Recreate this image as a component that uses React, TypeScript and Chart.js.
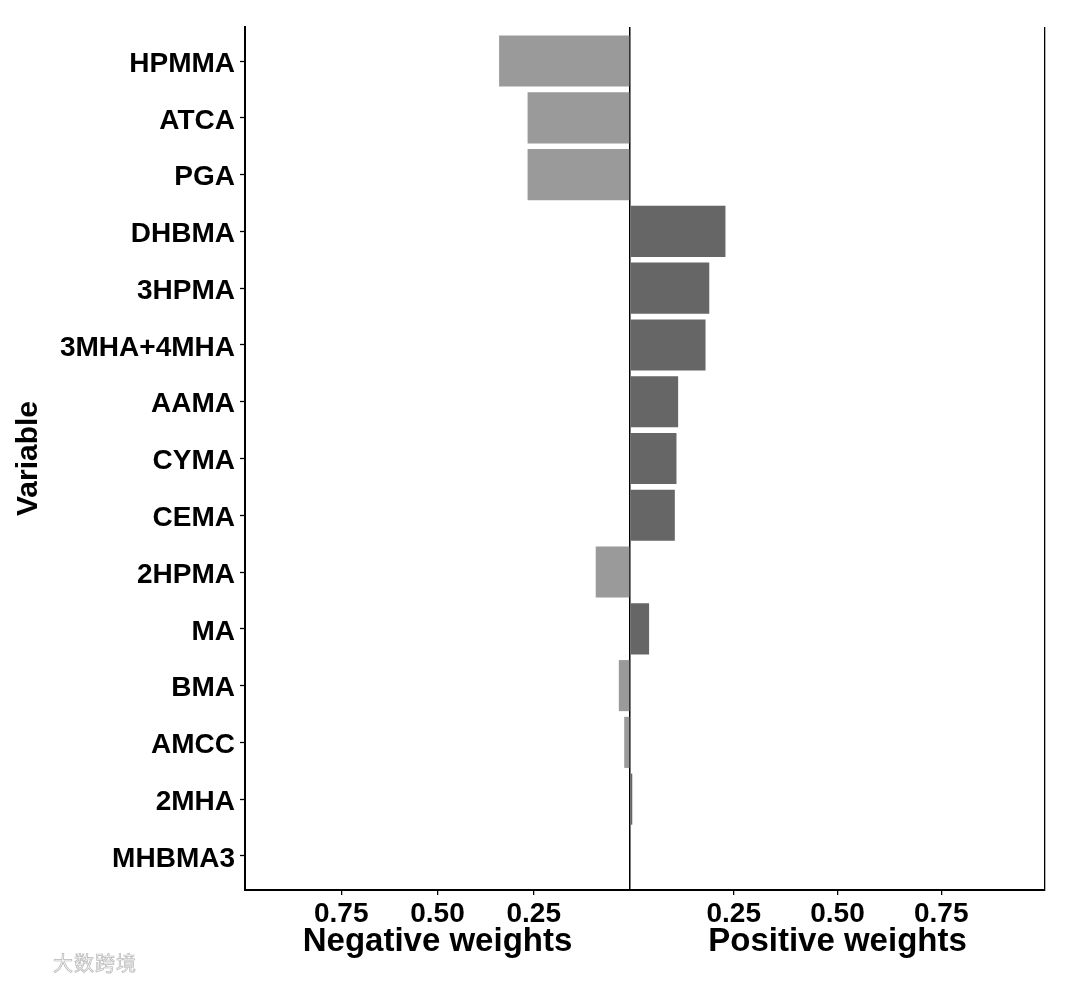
import React, { useEffect, useRef } from 'react';
import { Chart, registerables } from 'chart.js';

Chart.register(...registerables);

const categories = ['HPMMA', 'ATCA', 'PGA', 'DHBMA', '3HPMA', '3MHA+4MHA', 'AAMA', 'CYMA', 'CEMA', '2HPMA', 'MA', 'BMA', 'AMCC', '2MHA', 'MHBMA3'];
const negativeWeights = [0.340, 0.266, 0.266, null, null, null, null, null, null, 0.089, null, 0.029, 0.015, null, null];
const positiveWeights = [null, null, null, 0.230, 0.191, 0.182, 0.116, 0.112, 0.108, null, 0.046, null, null, 0.0055, 0.001];
const weightTickValues = [0, 0.25, 0.5, 0.75, 1];
const weightTickLabels = ['', '0.25', '0.50', '0.75', ''];
const yTitle = 'Variable';
const negTitle = 'Negative weights';
const posTitle = 'Positive weights';
const watermarkText = '大数跨境';

const NEG_COLOR = '#9a9a9a';
const POS_COLOR = '#666666';
const FONT = "'Liberation Sans', Arial, sans-serif";

export default function App() {
  const ref = useRef<HTMLCanvasElement>(null);

  useEffect(() => {
    document.body.style.margin = '0';
    const canvas = ref.current;
    if (!canvas) return;

    const tickIndex = (v: number) => weightTickValues.findIndex((t) => Math.abs(t - v) < 1e-6);
    const isInner = (v: number) => v > 0.001 && v < 0.999;

    const xScale = (reverse: boolean, title: string, weight: number, edgeLines: number[]) => ({
      type: 'linear',
      position: 'bottom',
      stack: 'weights',
      stackWeight: weight,
      reverse,
      min: 0,
      max: 1,
      afterBuildTicks: (scale: any) => {
        scale.ticks = weightTickValues.map((v) => ({ value: v }));
      },
      afterFit: (scale: any) => {
        scale.height = 95;
      },
      ticks: {
        autoSkip: false,
        maxRotation: 0,
        color: '#000',
        padding: 2,
        font: { family: FONT, size: 28, weight: 'bold' },
        callback: (v: number) => {
          const i = tickIndex(v);
          return i >= 0 ? weightTickLabels[i] : '';
        },
      },
      grid: {
        display: true,
        drawOnChartArea: true,
        drawTicks: true,
        tickLength: 5,
        lineWidth: 1.3,
        color: (ctx: any) => (ctx.tick && edgeLines.some((e) => Math.abs(e - ctx.tick.value) < 1e-6) ? '#000' : 'rgba(0,0,0,0)'),
        tickColor: (ctx: any) => (ctx.tick && isInner(ctx.tick.value) ? '#000' : 'rgba(0,0,0,0)'),
        tickWidth: 1.3,
      },
      border: { display: true, color: '#000', width: 2 },
      title: {
        display: true,
        text: title,
        color: '#000',
        font: { family: FONT, size: 33, weight: 'bold' },
        padding: { top: 0, bottom: 23 },
      },
    });

    const chart = new Chart(canvas, {
      type: 'bar',
      data: {
        datasets: [
          {
            label: negTitle,
            data: categories.map((c, i) => ({ x: negativeWeights[i], y: i })),
            xAxisID: 'xNeg',
            yAxisID: 'y',
            backgroundColor: NEG_COLOR,
            borderWidth: 0,
            grouped: false,
            barPercentage: 0.9,
            categoryPercentage: 1,
          } as any,
          {
            label: posTitle,
            data: categories.map((c, i) => ({ x: positiveWeights[i], y: i })),
            xAxisID: 'xPos',
            yAxisID: 'y',
            backgroundColor: POS_COLOR,
            borderWidth: 0,
            grouped: false,
            barPercentage: 0.9,
            categoryPercentage: 1,
          } as any,
        ],
      },
      options: {
        indexAxis: 'y',
        animation: false,
        responsive: false,
        maintainAspectRatio: false,
        layout: { padding: { top: 27, right: 35, left: 0, bottom: 0 } },
        plugins: { legend: { display: false }, tooltip: { enabled: false } },
        scales: {
          xNeg: xScale(true, negTitle, 385, [0]) as any,
          xPos: xScale(false, posTitle, 415, [0, 1]) as any,
          y: {
            type: 'linear',
            position: 'left',
            reverse: true,
            offset: false,
            min: -0.6,
            max: categories.length - 1 + 0.6,
            afterBuildTicks: (scale: any) => {
              scale.ticks = categories.map((c, i) => ({ value: i }));
            },
            afterFit: (scale: any) => {
              scale.width = 245;
            },
            ticks: {
              autoSkip: false,
              color: '#000',
              padding: 5,
              labelOffset: 3,
              font: { family: FONT, size: 28, weight: 'bold' },
              callback: (v: number) => categories[Math.round(v)] ?? '',
            },
            grid: {
              display: true,
              offset: false,
              drawOnChartArea: false,
              drawTicks: true,
              tickLength: 5,
              color: 'rgba(0,0,0,0)',
              tickColor: '#000',
              tickWidth: 1.3,
            },
            border: { display: true, color: '#000', width: 2 },
            title: {
              display: true,
              text: yTitle,
              color: '#000',
              font: { family: FONT, size: 30, weight: 'bold' },
              padding: { top: 11, bottom: 0 },
            },
          } as any,
        },
      },
    });

    return () => chart.destroy();
  }, []);

  return (
    <div style={{ position: 'relative', width: 1080, height: 985, background: '#fff' }}>
      <canvas ref={ref} width={1080} height={985} style={{ display: 'block' }} />
      <div
        style={{
          position: 'absolute',
          left: 53,
          top: 948,
          fontFamily: "'Noto Sans CJK SC', sans-serif",
          fontSize: 20,
          color: '#f6f6f6',
          WebkitTextStroke: '0.7px #b8b8b8',
          letterSpacing: 1,
        }}
      >
        {watermarkText}
      </div>
    </div>
  );
}
